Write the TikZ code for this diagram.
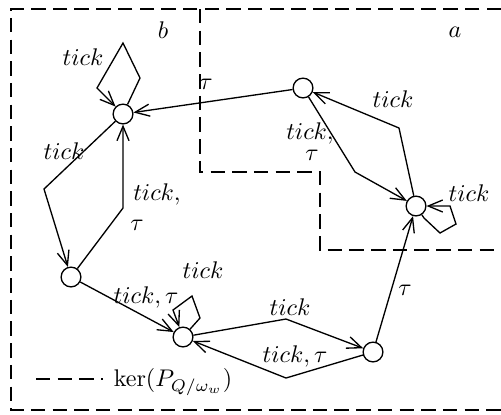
\documentclass[tikz,border=0pt]{standalone}
\usetikzlibrary{arrows.meta}
\begin{document}
\begin{tikzpicture}[x=0.415pt,y=-0.415pt,
  st/.style={draw,circle,minimum size=8.2pt,inner sep=0pt,line width=0.55pt},
  edge/.style={line width=0.55pt,-{Straight Barb[length=6pt,width=5pt]}},
  region/.style={dashed,dash pattern=on 6pt off 3pt,line width=0.55pt},
  lbl/.style={inner sep=0pt}]
\useasboundingbox (0,0) rectangle (501,414);
% regions
\draw[region] (501,9) -- (11,9) -- (11,410) -- (501,410);
\draw[region] (200,9) -- (200,172) -- (320,172) -- (320,250) -- (501,250);
\node[lbl] (lb) at (163,30) {$b$};
\node[lbl] (la) at (455,32) {$a$};
% states
\node[st] (N1) at (123,114) {};
\node[st] (N2) at (303,88) {};
\node[st] (N3) at (416,206) {};
\node[st] (N4) at (71,277) {};
\node[st] (N5) at (183,337) {};
\node[st] (N6) at (373,352) {};
% bend points
\coordinate (c14) at (44,189);
\coordinate (c41) at (123,208);
\coordinate (l1a) at (140,78);
\coordinate (l1b) at (123,43);
\coordinate (l1c) at (97,88);
\coordinate (c23) at (355,172);
\coordinate (c32) at (399,128);
\coordinate (l3a) at (424,218);
\coordinate (l3b) at (440,233);
\coordinate (l3c) at (456,224);
\coordinate (l3d) at (450,206);
\coordinate (l5a) at (200,318);
\coordinate (l5b) at (192,296);
\coordinate (l5c) at (173,310);
\coordinate (c56) at (286,319);
\coordinate (c65) at (286,378);
% edges
\draw[edge] (N2) -- (N1);
\draw[edge] (N1) -- (c14) -- (N4);
\draw[edge] (N4) -- (c41) -- (N1);
\draw[edge] (N1) -- (l1a) -- (l1b) -- (l1c) -- (N1);
\draw[edge] (N2) -- (c23) -- (N3);
\draw[edge] (N3) -- (c32) -- (N2);
\draw[edge] (N3) -- (l3a) -- (l3b) -- (l3c) -- (l3d) -- (N3);
\draw[edge] (N6) -- (N3);
\draw[edge] (N4) -- (N5);
\draw[edge] (N5) -- (l5a) -- (l5b) -- (l5c) -- (N5);
\draw[edge] (N5) -- (c56) -- (N6);
\draw[edge] (N6) -- (c65) -- (N5);
% labels
\node[lbl] (t21) at (206,84) {$\tau$};
\node[lbl] (t11) at (83,57) {$tick$};
\node[lbl] (t14) at (64,151) {$tick$};
\node[lbl] (t41a) at (157,194) {$tick,$};
\node[lbl] (t41b) at (137,225) {$\tau$};
\node[lbl] (t23a) at (310,133) {$tick,$};
\node[lbl] (t23b) at (312,155) {$\tau$};
\node[lbl] (t32) at (393,99) {$tick$};
\node[lbl] (t33) at (469,193) {$tick$};
\node[lbl] (t63) at (405,290) {$\tau$};
\node[lbl] (t45) at (146,297) {$tick,\tau$};
\node[lbl] (t55) at (203,270) {$tick$};
\node[lbl] (t56) at (290,307) {$tick$};
\node[lbl] (t65) at (295,356) {$tick,\tau$};
% legend
\coordinate (lg1) at (36,379);
\coordinate (lg2) at (103,379);
\draw[region] (lg1) -- (lg2);
\node[lbl] (lgt) at (173,382) {$\ker(P_{Q/\omega_w})$};
\end{tikzpicture}
\end{document}
